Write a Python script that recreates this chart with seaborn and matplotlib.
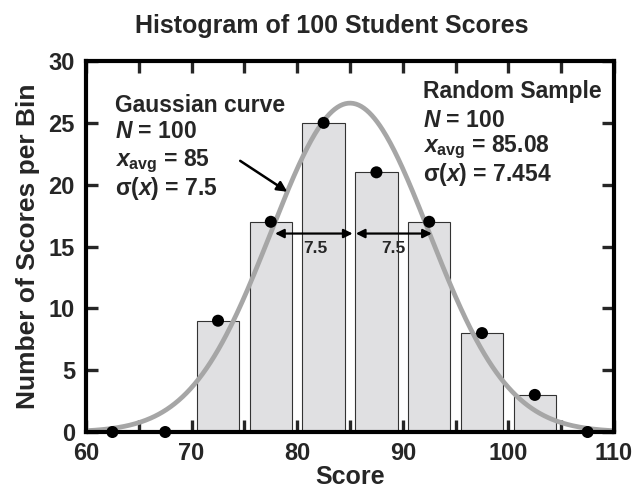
import numpy as np
import pandas as pd
import matplotlib
matplotlib.use('Agg')
import matplotlib.pyplot as plt
import seaborn as sns
from matplotlib.ticker import MultipleLocator

# ============================================================
# DATA
# ============================================================
bin_edges = [70, 75, 80, 85, 90, 95, 100, 105]
bin_counts = [9, 17, 25, 21, 17, 8, 3]
point_x = [62.5, 67.5, 72.5, 77.5, 82.5, 87.5, 92.5, 97.5, 102.5, 107.5]
point_y = [0, 0, 9, 17, 25, 21, 17, 8, 3, 0]

# Gaussian model parameters shown in the chart
gauss_n = 100
gauss_mean = 85
gauss_sigma = 7.5
bin_width = 5

sample_mean = 85.08
sample_sigma = 7.454

# ============================================================
# STYLE
# ============================================================
sns.set_theme(style='ticks')
plt.rcParams['font.family'] = ['Liberation Sans', 'DejaVu Sans']
plt.rcParams['font.weight'] = 'bold'
plt.rcParams['mathtext.fontset'] = 'custom'
plt.rcParams['mathtext.rm'] = 'Liberation Sans:bold'
plt.rcParams['mathtext.bf'] = 'Liberation Sans:bold'
plt.rcParams['mathtext.it'] = 'Liberation Sans:bold:italic'
plt.rcParams['mathtext.bfit'] = 'Liberation Sans:bold:italic'

fig = plt.figure(figsize=(6.39, 4.93), dpi=100)
ax = fig.add_axes([0.1346, 0.1237, 0.8263, 0.7525])

# histogram bars
centers = [(a + b) / 2 for a, b in zip(bin_edges[:-1], bin_edges[1:])]
sns.histplot(x=centers, weights=bin_counts, bins=bin_edges, shrink=0.8,
             color='#e0e0e2', edgecolor='#333333', linewidth=0.8, alpha=1,
             ax=ax, zorder=1)

# gaussian curve
xs = np.linspace(60, 110, 400)
ys = gauss_n * bin_width / (gauss_sigma * np.sqrt(2 * np.pi)) * \
    np.exp(-0.5 * ((xs - gauss_mean) / gauss_sigma) ** 2)
sns.lineplot(x=xs, y=ys, color='#a6a6a6', linewidth=3.4, ax=ax, zorder=2)

# sample points
sns.scatterplot(x=point_x, y=point_y, color='black', s=75, edgecolor='none',
                ax=ax, zorder=5, clip_on=False)

# +/- sigma arrows
arrow_y = 16.05
for x0, x1 in [(77.9, 85.25), (85.55, 92.75)]:
    ax.annotate('', xy=(x1, arrow_y), xytext=(x0, arrow_y),
                arrowprops=dict(arrowstyle='<|-|>', color='black', lw=1.6,
                                mutation_scale=13, shrinkA=0, shrinkB=0),
                zorder=4)
ax.text(81.7, 14.85, '7.5', fontsize=12.5, fontweight='bold', ha='center', va='center')
ax.text(89.1, 14.85, '7.5', fontsize=12.5, fontweight='bold', ha='center', va='center')

# pointer arrow to curve
ax.annotate('', xy=(79.06, 19.43), xytext=(74.6, 21.93),
            arrowprops=dict(arrowstyle='-|>', color='black', lw=1.8,
                            mutation_scale=15, shrinkA=0, shrinkB=0), zorder=4)

# text blocks
fs = 16.5
left_lines = [('Gaussian curve', 26.4), (r'$\mathbfit{N}$ = 100', 24.3),
              (r'$\mathbfit{x}_{\mathbf{avg}}$ = %g' % gauss_mean, 21.9),
              (r'σ($\mathbfit{x}$) = %g' % gauss_sigma, 19.7)]
right_lines = [('Random Sample', 27.5), (r'$\mathbfit{N}$ = 100', 25.2),
               (r'$\mathbfit{x}_{\mathbf{avg}}$ = %g' % sample_mean, 23.0),
               (r'σ($\mathbfit{x}$) = %g' % sample_sigma, 20.8)]
for txt, y in left_lines:
    ax.text(62.75, y, txt, fontsize=fs, fontweight='bold', ha='left', va='center')
for txt, y in right_lines:
    ax.text(91.9, y, txt, fontsize=fs, fontweight='bold', ha='left', va='center')

# axes
ax.set_xlim(60, 110)
ax.set_ylim(0, 30)
ax.xaxis.set_major_locator(MultipleLocator(10))
ax.xaxis.set_minor_locator(MultipleLocator(5))
ax.yaxis.set_major_locator(MultipleLocator(5))
ax.tick_params(which='both', direction='in', top=True, right=True,
               length=8.5, width=2.4, labelsize=17)
ax.tick_params(axis='x', pad=7)
ax.tick_params(axis='y', pad=8)
for lab in ax.get_xticklabels() + ax.get_yticklabels():
    lab.set_fontweight('bold')
for sp in ax.spines.values():
    sp.set_visible(True)
    sp.set_linewidth(3)
    sp.set_color('black')
ax.set_xlabel('Score', fontsize=18, fontweight='bold', labelpad=0)
ax.set_ylabel('Number of Scores per Bin', fontsize=19, fontweight='bold', labelpad=6)
fig.text(0.519, 0.9337, 'Histogram of 100 Student Scores', fontsize=18,
         fontweight='bold', ha='center', va='baseline')

fig.savefig('out.png', dpi=100)
